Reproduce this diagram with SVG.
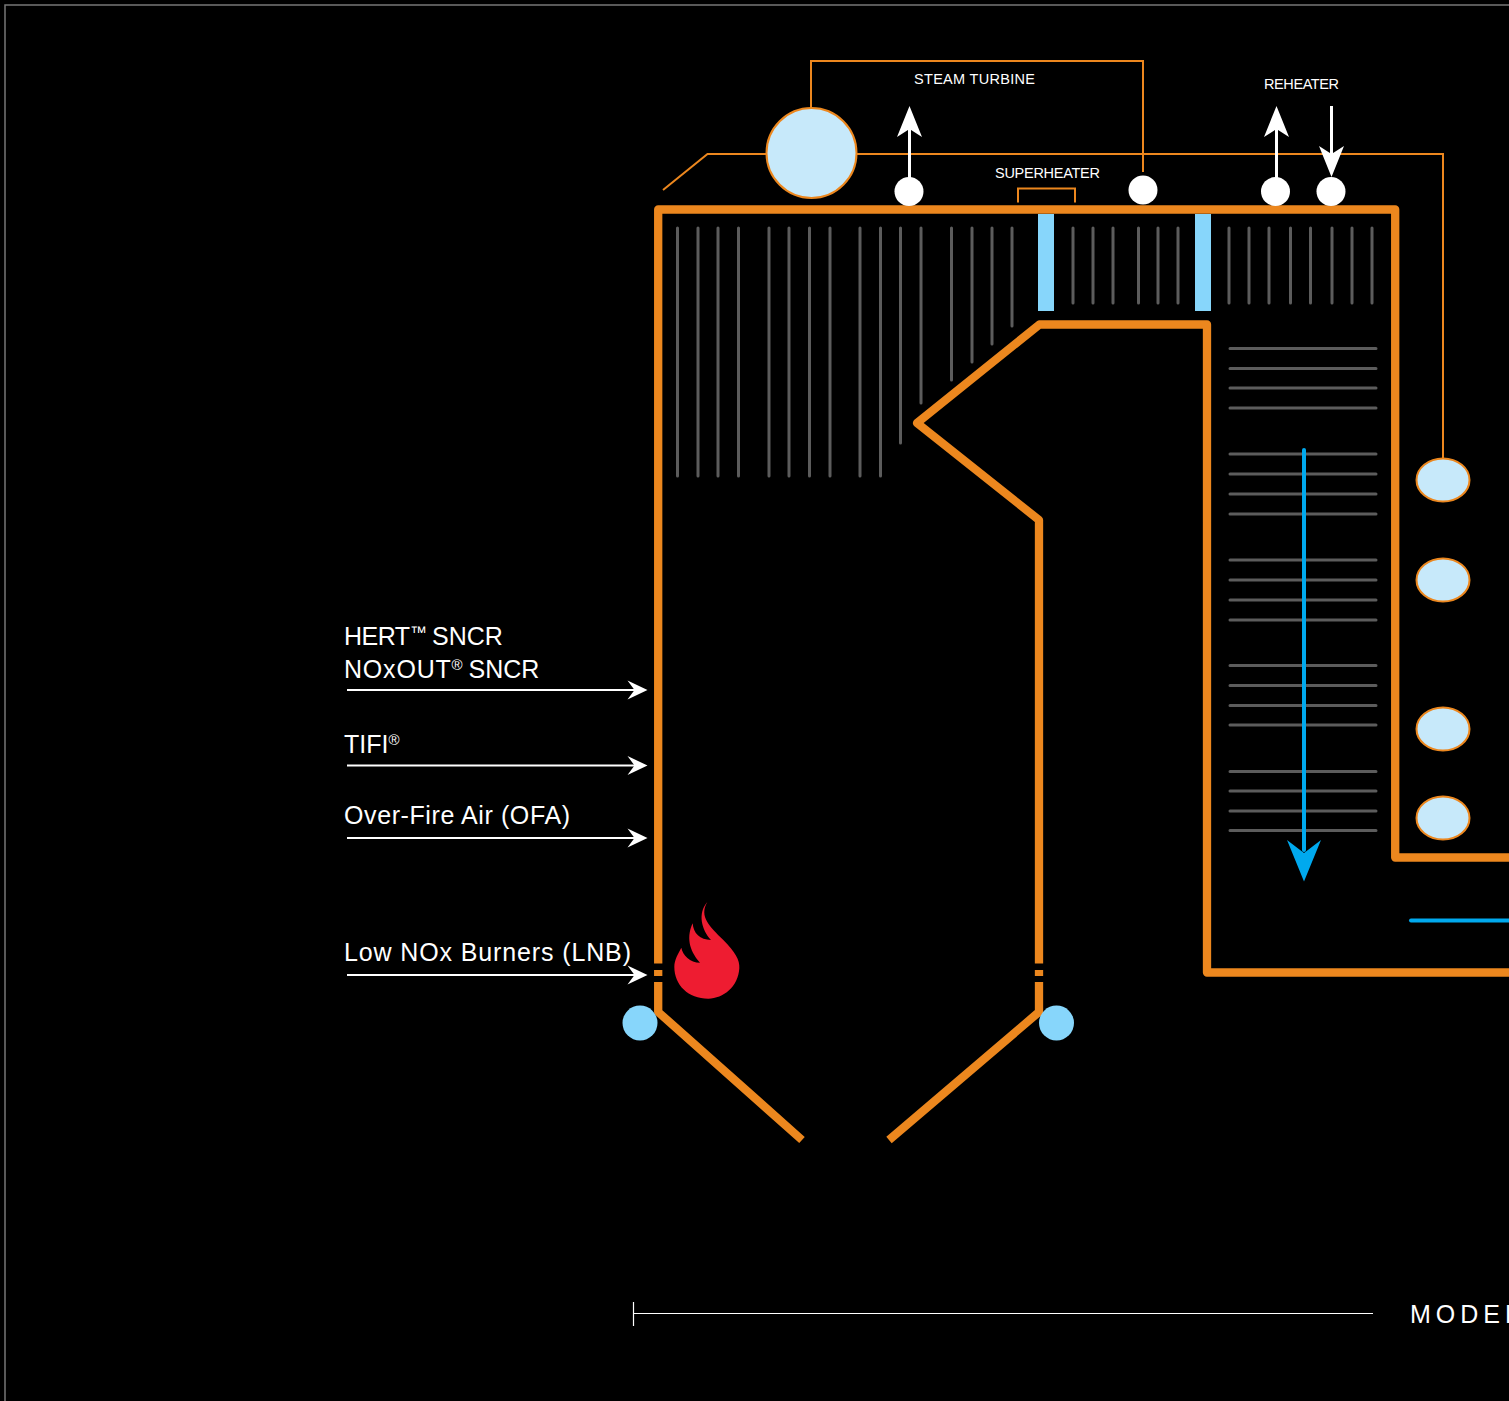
<svg xmlns="http://www.w3.org/2000/svg" width="1509" height="1401" viewBox="0 0 1509 1401">
<style>
.wall{fill:none;stroke:#ec871e;stroke-width:8.300;stroke-linejoin:round}
.thin{fill:none;stroke:#ec871e;stroke-width:2}
.tube{fill:none;stroke:#5c5c5c;stroke-width:3;stroke-linecap:round}
.wl{fill:none;stroke:#fff;stroke-width:2}
.wl3{fill:none;stroke:#fff;stroke-width:3}
.ah{fill:#fff}
.dot{fill:#fff}
.ell{fill:#c7e9fa;stroke:#ec871e;stroke-width:2}
.bl{fill:#87d6fb}
.lab{font-family:"Liberation Sans",Arial,sans-serif;fill:#fff;font-size:25px}
.sm{font-family:"Liberation Sans",Arial,sans-serif;fill:#fff;font-size:14.500px}
.tm{font-size:17px}
.reg{font-size:15px;letter-spacing:0}
</style>
<defs>
<path id="ahr" class="ah" d="M0 0L-20 -9.5L-13 0L-20 9.5Z"/>
<path id="ahu" class="ah" d="M0 0L-12.5 31L0 23L12.5 31Z"/>
</defs>
<rect width="1509" height="1401" fill="#000"/>
<path d="M1509 5H5V1401" fill="none" stroke="#777" stroke-width="1.500"/>

<g id="tubes">
<path class="tube" d="M677.500 228V476M698 228V476M718 228V476M738.500 228V476M769 228V476M789 228V476M809.500 228V476M830 228V476M860 228V476M880.500 228V476M900.500 228V443M921 228V403M951.500 228V380M972 228V362M992 228V344M1012 228V326"/>
<path class="tube" d="M1073 228V303M1093 228V303M1113 228V303M1138.500 228V303M1158 228V303M1178 228V303M1229 228V303M1249 228V303M1269 228V303M1290.500 228V303M1310.500 228V303M1332 228V303M1352 228V303M1372 228V303"/>
<path class="tube" d="M1230 348.500H1376M1230 368.500H1376M1230 388H1376M1230 408H1376M1230 454H1376M1230 474H1376M1230 494H1376M1230 514H1376M1230 560H1376M1230 580H1376M1230 600H1376M1230 620H1376M1230 665.500H1376M1230 685.500H1376M1230 705.500H1376M1230 725H1376M1230 771.500H1376M1230 791H1376M1230 811H1376M1230 830.500H1376"/>
</g>

<g id="boiler">
<path class="wall" d="M802 1140L658.200 1012V209.500H1395.200V857.500H1509"/>
<path class="wall" d="M889 1140L1039 1012V520L917 423L1039.500 324.500H1207V972.500H1509"/>
<rect x="650" y="963.500" width="18" height="6.500" fill="#000"/>
<rect x="650" y="976" width="18" height="6" fill="#000"/>
<rect x="1031" y="963.500" width="18" height="6.500" fill="#000"/>
<rect x="1031" y="976" width="18" height="6" fill="#000"/>
<rect class="bl" x="1038" y="214" width="16" height="97"/>
<rect class="bl" x="1195" y="214" width="16" height="97"/>
</g>

<g id="connectors">
<path class="thin" d="M663 190L707.500 154H767M857 154H1443V459"/>
<path class="thin" d="M811 108V61H1143V172"/>
<path class="thin" d="M1018 202.500V188.500H1075V202.500"/>
<path class="wl3" d="M909.500 192V128M1276.500 192V128M1331.500 106V158"/>
<use href="#ahu" x="909.500" y="106"/>
<use href="#ahu" x="1276.500" y="106"/>
<use href="#ahu" transform="translate(1331.500 177) scale(1 -1)"/>
<path class="wl" d="M347 690H636M347 765.500H636M347 838H636M347 975H636"/>
<use href="#ahr" x="647.500" y="690"/>
<use href="#ahr" x="647.500" y="765.500"/>
<use href="#ahr" x="647.500" y="838"/>
<use href="#ahr" x="647.500" y="975"/>
<path d="M1304 450V850" fill="none" stroke="#00a9ee" stroke-width="4" stroke-linecap="round"/>
<path d="M1304 881.500L1287 840L1304 853L1321 840Z" fill="#00a9ee"/>
<path d="M1411 920.500H1509" fill="none" stroke="#00a9ee" stroke-width="4" stroke-linecap="round"/>
<path d="M633.500 1302V1326M633.500 1313.500H1373" fill="none" stroke="#fff" stroke-width="1.200"/>
</g>

<g id="drum"><circle class="ell" cx="811.500" cy="153" r="45"/></g>
<g id="dot1"><circle class="dot" cx="909" cy="191.500" r="14.500"/></g>
<g id="dot2"><circle class="dot" cx="1143" cy="190" r="14.500"/></g>
<g id="dot3"><circle class="dot" cx="1275.500" cy="191.500" r="14.500"/></g>
<g id="dot4"><circle class="dot" cx="1331" cy="191.500" r="14.500"/></g>
<g id="header1"><ellipse class="ell" cx="1443" cy="480" rx="26.500" ry="21.500"/></g>
<g id="header2"><ellipse class="ell" cx="1443" cy="580" rx="26.500" ry="21.500"/></g>
<g id="header3"><ellipse class="ell" cx="1443" cy="729" rx="26.500" ry="21.500"/></g>
<g id="header4"><ellipse class="ell" cx="1443" cy="818" rx="26.500" ry="21.500"/></g>
<g id="drainL"><circle class="bl" cx="640" cy="1023" r="17.500"/></g>
<g id="drainR"><circle class="bl" cx="1056.500" cy="1023" r="17.500"/></g>
<g id="flame"><path fill="#ee1c31" transform="translate(610 890) scale(.3333)" d="M292 36C266 80 300 110 340 150C375 185 390 210 388 235C385 290 340 326 295 326C235 326 193 285 193 230C193 210 205 190 214 173C218 195 240 218 270 218C245 190 225 150 248 100C250 130 270 150 303 150C275 120 262 70 292 36Z"/></g>

<g id="labels">
<text class="sm" x="914" y="84" textLength="121">STEAM TURBINE</text>
<text class="sm" x="995" y="178" textLength="105">SUPERHEATER</text>
<text class="sm" x="1264" y="89" textLength="75">REHEATER</text>
<text class="lab" x="344" y="645"><tspan letter-spacing="-0.500">HERT</tspan><tspan class="tm" x="410" dy="-7">™</tspan><tspan x="432" dy="7">SNCR</tspan></text>
<text class="lab" x="344" y="678"><tspan letter-spacing="0.800">NOxOUT</tspan><tspan class="reg" x="451.500" dy="-8">®</tspan><tspan x="468.500" dy="8">SNCR</tspan></text>
<text class="lab" x="344" y="753">TIFI<tspan class="reg" dy="-8">®</tspan></text>
<text class="lab" x="344" y="824" textLength="226">Over-Fire Air (OFA)</text>
<text class="lab" x="344" y="961" textLength="287">Low NOx Burners (LNB)</text>
<text class="lab" x="1410" y="1323" letter-spacing="5">MODEL</text>
</g>
</svg>
